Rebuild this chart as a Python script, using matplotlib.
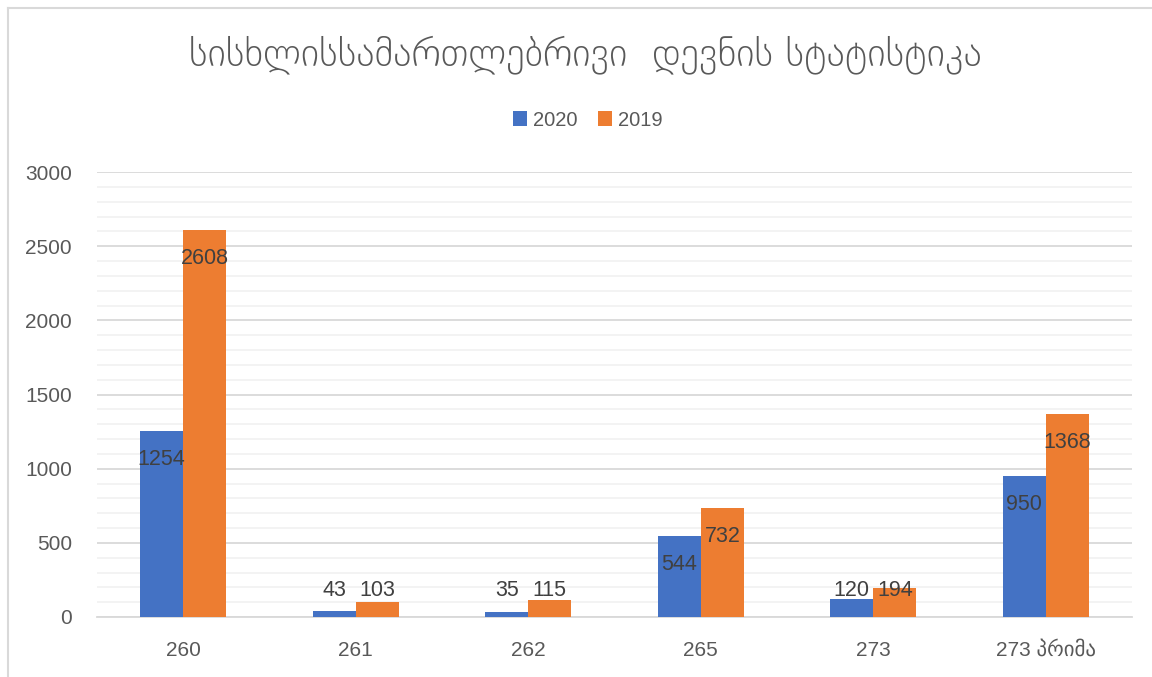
import numpy as np
import matplotlib.pyplot as plt
from matplotlib.lines import Line2D

# === data ===
categories = ["260", "261", "262", "265", "273", "273 პრიმა"]
vals_2020 = [1254, 43, 35, 544, 120, 950]
vals_2019 = [2608, 103, 115, 732, 194, 1368]
series_names = ["2020", "2019"]

title = "სისხლისსამართლებრივი  დევნის სტატისტიკა"

BLUE = "#4472C4"
ORANGE = "#ED7D31"
TXT = "#595959"
FONT = ["Liberation Sans", "DejaVu Sans"]

plt.rcParams['font.family'] = FONT

fig = plt.figure(figsize=(11.52, 6.77), dpi=100)
ax = fig.add_axes([97 / 1152, 1 - 617 / 677, 1035 / 1152, 445 / 677])

x = np.arange(len(categories))
w = 0.25
b1 = ax.bar(x - w / 2, vals_2020, w, color=BLUE, label=series_names[0], zorder=3)
b2 = ax.bar(x + w / 2, vals_2019, w, color=ORANGE, label=series_names[1], zorder=3)

# labels: just inside the top, but never lower than near the base
for bars, vals in ((b1, vals_2020), (b2, vals_2019)):
    for rect, v in zip(bars, vals):
        y = max(v - 190, 176)
        ax.text(rect.get_x() + rect.get_width() / 2, y, str(v), ha="center", va="center",
                fontsize=15.5, color="#404040", zorder=4)

ax.set_xlim(-0.5, len(categories) - 0.5)
ax.set_ylim(0, 3000)
ax.set_yticks(np.arange(0, 3001, 500))
ax.set_yticks(np.arange(0, 3001, 100), minor=True)
ax.grid(axis="y", which="major", color="#D9D9D9", linewidth=1.3, zorder=0)
ax.grid(axis="y", which="minor", color="#F2F2F2", linewidth=1.3, zorder=0)
ax.set_xticks(x)
ax.set_xticklabels(categories)
ax.tick_params(axis="both", which="both", length=0, labelsize=15, labelcolor=TXT)
ax.tick_params(axis="y", pad=18)
ax.tick_params(axis="x", pad=17)
for s in ("top", "right", "left"):
    ax.spines[s].set_visible(False)
ax.spines["bottom"].set_color("#D9D9D9")
ax.spines["bottom"].set_linewidth(1.3)

fig.text(0.508, 1 - 55 / 677, title, ha="center", va="center", fontsize=28,
         color=TXT, family=["DejaVu Sans"], fontweight="light")

fig.legend(handles=[b1, b2], labels=series_names, loc="center", bbox_to_anchor=(588 / 1152, 1 - 120 / 677),
           ncol=2, frameon=False, fontsize=14.5, handlelength=0.7, handleheight=0.7,
           handletextpad=0.3, columnspacing=1.0, labelcolor=TXT)

# chart frame lines (left and top)
fig.add_artist(Line2D([8 / 1152, 8 / 1152], [0, 1 - 8 / 677], transform=fig.transFigure, color="#D9D9D9", lw=1.5))
fig.add_artist(Line2D([8 / 1152, 1], [1 - 8 / 677, 1 - 8 / 677], transform=fig.transFigure, color="#D9D9D9", lw=1.5))

fig.savefig("out.png", dpi=100)
